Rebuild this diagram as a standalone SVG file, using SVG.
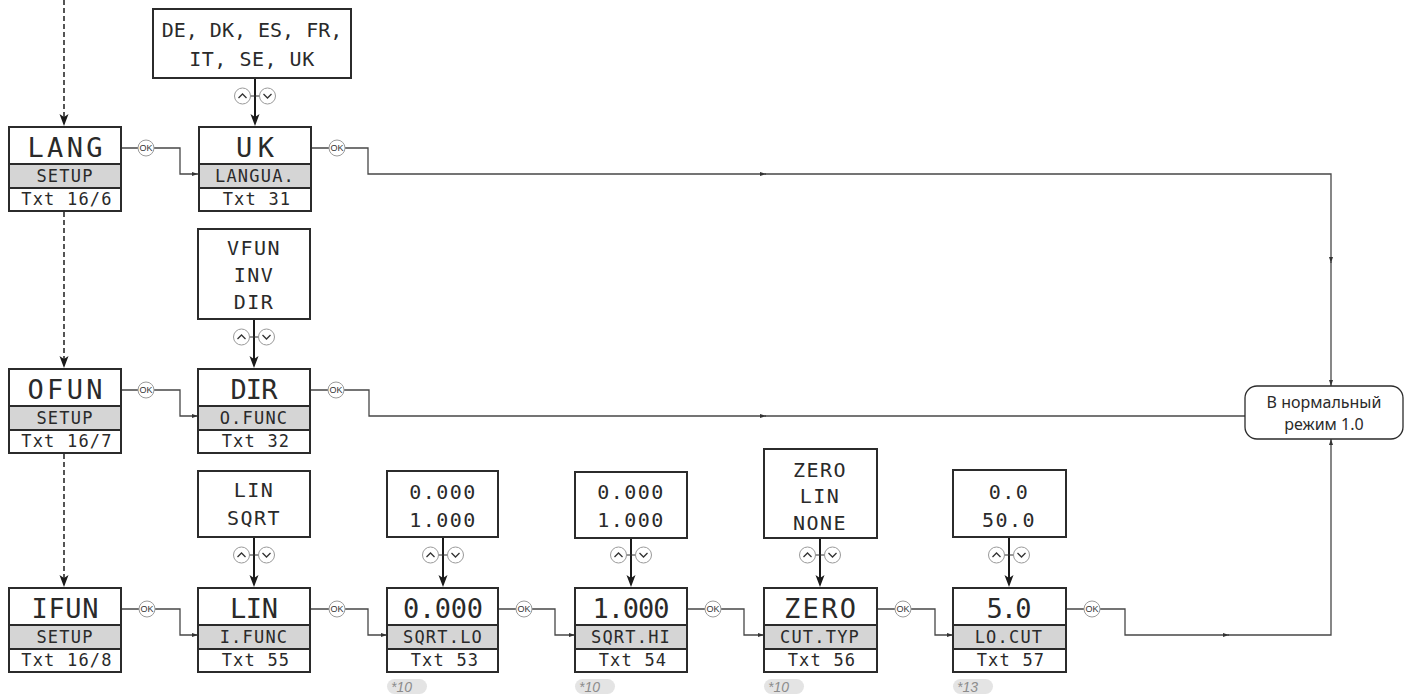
<svg xmlns="http://www.w3.org/2000/svg" xmlns:xlink="http://www.w3.org/1999/xlink" width="1405" height="695" viewBox="0 0 1405 695">
<style>
.box{fill:#fff;stroke:#2b2b2b;stroke-width:2}
.band{fill:#d5d5d5;stroke:#2b2b2b;stroke-width:2}
.val{font-family:"DejaVu Sans Mono","Liberation Mono",monospace;font-size:27px;fill:#2a2a2a;text-anchor:middle}
.opt{font-family:"DejaVu Sans Mono","Liberation Mono",monospace;font-size:20px;fill:#2a2a2a;text-anchor:middle;letter-spacing:1.5px}
.lbl{font-family:"DejaVu Sans Mono","Liberation Mono",monospace;font-size:17px;fill:#2a2a2a;text-anchor:middle;letter-spacing:1.2px}
.con{fill:none;stroke:#474747;stroke-width:1.3}
.sel{fill:none;stroke:#1a1a1a;stroke-width:2}
.dash{fill:none;stroke:#2b2b2b;stroke-width:1.6;stroke-dasharray:5 3}
.head{fill:#1a1a1a;stroke:none}
.btn{fill:#fff;stroke:#9a9a9a;stroke-width:1}
.chev{fill:none;stroke:#333;stroke-width:1.3}
.ok{font-family:"Liberation Sans","DejaVu Sans",sans-serif;font-size:9px;fill:#333;text-anchor:middle}
.note{font-family:"Liberation Sans","DejaVu Sans",sans-serif;font-size:14px;font-style:italic;fill:#8c8c8c}
.pill{fill:#e4e4e4}
.end{font-family:"Noto Sans","Open Sans",sans-serif;font-size:16px;fill:#2a2a2a;text-anchor:middle}
</style>
<defs>
<marker id="sm" viewBox="0 0 6 4" refX="6" refY="2" markerWidth="6" markerHeight="4" markerUnits="userSpaceOnUse" orient="auto"><path d="M0,0 L6,2 L0,4 Z" fill="#333"/></marker>
<g id="updown">
<line x1="-5" y1="0" x2="5" y2="0" stroke="#333" stroke-width="1"/>
<circle class="btn" cx="-12.5" cy="0" r="8"/>
<path class="chev" d="M-16.5,2 L-12.5,-2 L-8.5,2"/>
<circle class="btn" cx="12.5" cy="0" r="8"/>
<path class="chev" d="M8.5,-2 L12.5,2 L16.5,-2"/>
</g>
<g id="okb">
<circle class="btn" cx="0" cy="0" r="8"/>
<text class="ok" x="0" y="3.2">OK</text>
</g>
</defs>

<g id="connectors">
<!-- dashed flow down column 1 -->
<path class="dash" d="M64,0 L64,118"/>
<path class="head" d="M59.5,114 L64,126 L68.5,114 L64,117 Z"/>
<path class="dash" d="M64,212 L64,360"/>
<path class="head" d="M59.5,356 L64,368 L68.5,356 L64,359 Z"/>
<path class="dash" d="M64,454 L64,579"/>
<path class="head" d="M59.5,575 L64,587 L68.5,575 L64,578 Z"/>
<!-- option lists to value boxes -->
<path class="sel" d="M255,78 L255,118"/><path class="head" d="M250.5,114 L255,126 L259.5,114 L255,117 Z"/>
<path class="sel" d="M254,319 L254,360"/><path class="head" d="M249.5,356 L254,368 L258.5,356 L254,359 Z"/>
<path class="sel" d="M254,537 L254,579"/><path class="head" d="M249.5,575 L254,587 L258.5,575 L254,578 Z"/>
<path class="sel" d="M443,537 L443,579"/><path class="head" d="M438.5,575 L443,587 L447.5,575 L443,578 Z"/>
<path class="sel" d="M631,538 L631,579"/><path class="head" d="M626.5,575 L631,587 L635.5,575 L631,578 Z"/>
<path class="sel" d="M820,538 L820,579"/><path class="head" d="M815.5,575 L820,587 L824.5,575 L820,578 Z"/>
<path class="sel" d="M1009,537 L1009,579"/><path class="head" d="M1004.5,575 L1009,587 L1013.5,575 L1009,578 Z"/>
<!-- row 1 -->
<path class="con" d="M121,148 L138,148 M154,148 L180,148 L180,174 L198,174" marker-end="url(#sm)"/>
<path class="con" d="M311,148 L329,148 M345,148 L368,148 L368,174 L766,174" marker-end="url(#sm)"/>
<path class="con" d="M765,174 L1331,174 L1331,263" marker-end="url(#sm)"/>
<path class="con" d="M1331,262 L1331,386" marker-end="url(#sm)"/>
<!-- row 2 -->
<path class="con" d="M121,390 L138,390 M154,390 L180,390 L180,416 L198,416" marker-end="url(#sm)"/>
<path class="con" d="M310,390 L328,390 M344,390 L369,390 L369,416 L766,416" marker-end="url(#sm)"/>
<path class="con" d="M765,416 L1245,416"/>
<!-- row 3 -->
<path class="con" d="M121,609 L139,609 M155,609 L180,609 L180,635 L198,635" marker-end="url(#sm)"/>
<path class="con" d="M310,609 L329,609 M345,609 L368,609 L368,635 L387,635" marker-end="url(#sm)"/>
<path class="con" d="M498,609 L516,609 M532,609 L555,609 L555,635 L575,635" marker-end="url(#sm)"/>
<path class="con" d="M687,609 L705,609 M721,609 L744,609 L744,635 L764,635" marker-end="url(#sm)"/>
<path class="con" d="M877,609 L895,609 M911,609 L935,609 L935,635 L953,635" marker-end="url(#sm)"/>
<path class="con" d="M1066,609 L1084,609 M1100,609 L1125,609 L1125,635 L1229,635" marker-end="url(#sm)"/>
<path class="con" d="M1228,635 L1331,635 L1331,439" marker-end="url(#sm)"/>
<!-- buttons -->
<use xlink:href="#updown" href="#updown" x="255" y="96"/>
<use xlink:href="#updown" href="#updown" x="254" y="337"/>
<use xlink:href="#updown" href="#updown" x="254" y="555"/>
<use xlink:href="#updown" href="#updown" x="443" y="555"/>
<use xlink:href="#updown" href="#updown" x="631" y="555"/>
<use xlink:href="#updown" href="#updown" x="820" y="555"/>
<use xlink:href="#updown" href="#updown" x="1009" y="555"/>
<use xlink:href="#okb" href="#okb" x="146" y="148"/>
<use xlink:href="#okb" href="#okb" x="337" y="148"/>
<use xlink:href="#okb" href="#okb" x="146" y="390"/>
<use xlink:href="#okb" href="#okb" x="336" y="390"/>
<use xlink:href="#okb" href="#okb" x="147" y="609"/>
<use xlink:href="#okb" href="#okb" x="337" y="609"/>
<use xlink:href="#okb" href="#okb" x="524" y="609"/>
<use xlink:href="#okb" href="#okb" x="713" y="609"/>
<use xlink:href="#okb" href="#okb" x="903" y="609"/>
<use xlink:href="#okb" href="#okb" x="1092" y="609"/>
</g>

<!-- column 1 menu boxes -->
<g id="lang">
<rect class="box" x="9" y="127" width="112" height="84"/>
<rect class="band" x="9" y="164" width="112" height="24"/>
<text class="val" x="65" y="157" textLength="75" lengthAdjust="spacing">LANG</text>
<text class="lbl" x="65" y="182">SETUP</text>
<text class="lbl" x="67" y="205">Txt 16/6</text>
</g>
<g id="ofun">
<rect class="box" x="9" y="369" width="112" height="84"/>
<rect class="band" x="9" y="406" width="112" height="24"/>
<text class="val" x="65" y="399" textLength="75" lengthAdjust="spacing">OFUN</text>
<text class="lbl" x="65" y="424">SETUP</text>
<text class="lbl" x="67" y="447">Txt 16/7</text>
</g>
<g id="ifun">
<rect class="box" x="9" y="588" width="112" height="84"/>
<rect class="band" x="9" y="625" width="112" height="24"/>
<text class="val" x="65" y="618" textLength="67" lengthAdjust="spacing">IFUN</text>
<text class="lbl" x="65" y="643">SETUP</text>
<text class="lbl" x="67" y="666">Txt 16/8</text>
</g>

<!-- language -->
<g id="lang-options">
<rect class="box" x="153" y="9" width="198" height="69"/>
<text class="opt" x="252" y="37" style="letter-spacing:0">DE, DK, ES, FR,</text>
<text class="opt" x="252" y="66" style="letter-spacing:0.5px">IT, SE, UK</text>
</g>
<g id="langua">
<rect class="box" x="199" y="127" width="112" height="84"/>
<rect class="band" x="199" y="164" width="112" height="24"/>
<text class="val" x="255" y="157" textLength="38" lengthAdjust="spacing">UK</text>
<text class="lbl" x="255" y="182">LANGUA.</text>
<text class="lbl" x="257" y="205">Txt 31</text>
</g>

<!-- output function -->
<g id="ofunc-options">
<rect class="box" x="198" y="229" width="112" height="90"/>
<text class="opt" x="254" y="255">VFUN</text>
<text class="opt" x="254" y="282">INV</text>
<text class="opt" x="254" y="309">DIR</text>
</g>
<g id="ofunc">
<rect class="box" x="198" y="369" width="112" height="84"/>
<rect class="band" x="198" y="406" width="112" height="24"/>
<text class="val" x="254" y="399" textLength="47" lengthAdjust="spacing">DIR</text>
<text class="lbl" x="254" y="424">O.FUNC</text>
<text class="lbl" x="256" y="447">Txt 32</text>
</g>

<!-- input function -->
<g id="ifunc-options">
<rect class="box" x="198" y="471" width="112" height="66"/>
<text class="opt" x="254" y="497">LIN</text>
<text class="opt" x="254" y="525">SQRT</text>
</g>
<g id="ifunc">
<rect class="box" x="198" y="588" width="112" height="84"/>
<rect class="band" x="198" y="625" width="112" height="24"/>
<text class="val" x="254" y="618" textLength="48" lengthAdjust="spacing">LIN</text>
<text class="lbl" x="254" y="643">I.FUNC</text>
<text class="lbl" x="256" y="666">Txt 55</text>
</g>

<!-- sqrt low -->
<g id="sqrtlo-options">
<rect class="box" x="387" y="471" width="111" height="66"/>
<text class="opt" x="443" y="499">0.000</text>
<text class="opt" x="443" y="527">1.000</text>
</g>
<g id="sqrtlo">
<rect class="box" x="387" y="588" width="111" height="84"/>
<rect class="band" x="387" y="625" width="111" height="24"/>
<text class="val" x="443" y="618" textLength="80" lengthAdjust="spacing">0.000</text>
<text class="lbl" x="443" y="643">SQRT.LO</text>
<text class="lbl" x="445" y="666">Txt 53</text>
<rect class="pill" x="387" y="679" width="40" height="15" rx="7.5"/>
<text class="note" x="391" y="692">*10</text>
</g>

<!-- sqrt high -->
<g id="sqrthi-options">
<rect class="box" x="575" y="472" width="112" height="66"/>
<text class="opt" x="631" y="499">0.000</text>
<text class="opt" x="631" y="527">1.000</text>
</g>
<g id="sqrthi">
<rect class="box" x="575" y="588" width="112" height="84"/>
<rect class="band" x="575" y="625" width="112" height="24"/>
<text class="val" x="631" y="618" textLength="77" lengthAdjust="spacing">1.000</text>
<text class="lbl" x="631" y="643">SQRT.HI</text>
<text class="lbl" x="633" y="666">Txt 54</text>
<rect class="pill" x="575" y="679" width="40" height="15" rx="7.5"/>
<text class="note" x="579" y="692">*10</text>
</g>

<!-- cut type -->
<g id="cuttyp-options">
<rect class="box" x="764" y="449" width="113" height="89"/>
<text class="opt" x="820" y="477">ZERO</text>
<text class="opt" x="820" y="503">LIN</text>
<text class="opt" x="820" y="530">NONE</text>
</g>
<g id="cuttyp">
<rect class="box" x="764" y="588" width="113" height="84"/>
<rect class="band" x="764" y="625" width="113" height="24"/>
<text class="val" x="820" y="618" textLength="72" lengthAdjust="spacing">ZERO</text>
<text class="lbl" x="820" y="643">CUT.TYP</text>
<text class="lbl" x="822" y="666">Txt 56</text>
<rect class="pill" x="764" y="679" width="40" height="15" rx="7.5"/>
<text class="note" x="768" y="692">*10</text>
</g>

<!-- low cut -->
<g id="locut-options">
<rect class="box" x="953" y="470" width="113" height="67"/>
<text class="opt" x="1009" y="499">0.0</text>
<text class="opt" x="1009" y="527">50.0</text>
</g>
<g id="locut">
<rect class="box" x="953" y="588" width="113" height="84"/>
<rect class="band" x="953" y="625" width="113" height="24"/>
<text class="val" x="1009" y="618" textLength="45" lengthAdjust="spacing">5.0</text>
<text class="lbl" x="1009" y="643">LO.CUT</text>
<text class="lbl" x="1011" y="666">Txt 57</text>
<rect class="pill" x="953" y="679" width="40" height="15" rx="7.5"/>
<text class="note" x="957" y="692">*13</text>
</g>

<!-- exit -->
<g id="normal-mode">
<rect x="1245" y="386" width="158" height="53" rx="12" fill="#fff" stroke="#2b2b2b" stroke-width="1.3"/>
<text class="end" x="1324" y="408">В нормальный</text>
<text class="end" x="1324" y="430">режим 1.0</text>
</g>
</svg>
